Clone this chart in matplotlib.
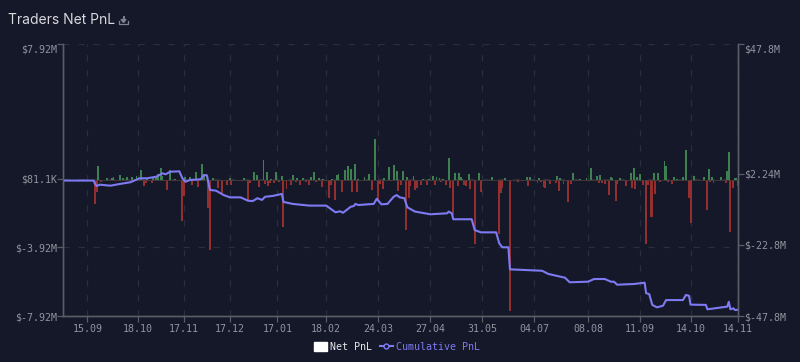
import matplotlib
matplotlib.use("Agg")
import matplotlib.pyplot as plt
from matplotlib.lines import Line2D
from matplotlib.patches import Patch, Polygon

# day index from the first day on the axis, net PnL in $K
gain_days = [23,29,32,33,37,39,42,45,48,51,55,59,61,62,64,65,70,73,80,83,87,91,92,98,109,118,125,127,131,133,136,139,143,150,153,157,162,164,167,170,176,179,180,184,186,188,191,193,197,200,204,210,213,216,218,222,225,229,235,239,242,244,246,248,252,256,259,260,261,265,272,280,289,303,305,311,323,325,333,338,342,345,349,351,358,359,364,371,373,375,377,386,389,393,394,399,401,405,407,412,419,422,424,430,434,435,439,440]
gain_values = [840,120,120,180,290,120,180,180,240,590,60,120,180,350,700,240,590,60,180,180,470,940,290,120,120,120,470,290,1180,470,60,470,240,290,120,120,180,470,120,60,60,290,350,590,820,650,940,60,180,350,2410,120,760,880,530,530,180,240,60,60,240,180,120,60,1290,410,410,180,60,350,410,180,120,180,180,120,240,120,410,60,120,710,240,290,180,120,120,410,710,180,350,410,410,1120,820,180,60,180,1760,240,180,650,180,180,530,1650,120,120]
loss_days = [21,22,25,53,54,58,66,68,78,79,84,88,95,96,101,104,107,110,111,114,117,121,122,128,132,134,135,138,141,144,146,149,152,155,159,161,165,169,171,174,175,178,182,189,192,202,206,207,209,215,219,221,224,226,227,230,231,234,238,243,247,250,253,255,258,262,263,266,269,273,285,286,287,292,297,300,304,310,312,314,315,318,322,324,327,330,332,336,343,350,352,354,357,361,362,368,372,374,379,381,382,384,385,387,390,395,398,400,409,410,413,421,423,425,433,436,438,441]
loss_values = [-1410,-710,-120,-350,-180,-180,-60,-590,-2410,-940,-290,-410,-1650,-4060,-470,-760,-290,-290,-60,-60,-60,-1240,-180,-410,-240,-350,-180,-180,-120,-2710,-530,-290,-120,-290,-120,-290,-120,-410,-60,-1060,-290,-1180,-710,-710,-710,-590,-1180,-240,-530,-60,-650,-290,-2940,-1060,-350,-590,-470,-290,-290,-290,-120,-290,-470,-2060,-350,-290,-350,-530,-3710,-710,-3120,-760,-470,-7650,-120,-60,-350,-180,-120,-410,-470,-240,-180,-650,-240,-1290,-240,-60,-60,-180,-180,-240,-880,-1240,-240,-350,-470,-530,-290,-3710,-290,-2180,-2180,-820,-120,-120,-240,-60,-1060,-2530,-60,-1760,-120,-180,-180,-3000,-470,-350]

# cumulative PnL, day index and $M
cum_days = [0,20,21,22,24,31,37,44,50,55,61,65,67,70,76,78,80,83,90,92,94,96,100,105,109,116,121,124,127,130,132,137,143,144,150,161,172,178,181,183,188,190,191,193,199,203,205,208,212,216,218,220,223,225,230,240,251,252,254,255,267,269,273,283,285,287,291,292,313,317,328,331,343,347,354,358,360,362,373,380,381,383,385,388,392,394,405,407,409,410,420,421,434,435,436,438,439,441]
cum_values = [-0.2,-0.2,-1.4,-2.1,-1.65,-2.0,-1.4,-0.8,0.6,0.6,1.15,2.35,2.0,2.9,3.05,0.6,-0.6,0,0.25,1.75,1.65,-3.5,-3.75,-5.3,-6.1,-6.1,-7.3,-7.4,-6.4,-7.0,-5.9,-5.6,-4.9,-7.7,-8.4,-9.0,-9.0,-11.35,-11.0,-11.5,-9.4,-9.15,-8.4,-8.8,-8.55,-8.4,-6.6,-8.55,-8.4,-5.9,-5.3,-6.1,-6.4,-9.6,-11.1,-12.05,-11.7,-11.1,-11.7,-13.8,-13.8,-17.6,-18.4,-18.4,-22.25,-23.65,-23.65,-31.4,-31.9,-33.0,-34.35,-35.95,-35.75,-34.8,-34.8,-35.75,-35.75,-36.8,-36.55,-36.1,-39.8,-40.1,-43.9,-44.75,-44.2,-42.2,-42.2,-40.4,-40.7,-43.8,-43.9,-45.45,-44.5,-42.8,-45.45,-45.1,-45.7,-45.6]

x_tick_days = [16,49,79,109,140,172,206,240,274,308,343,377,410,441]
x_tick_labels = ["15.09","18.10","17.11","17.12","17.01","18.02","24.03","27.04","31.05","04.07","08.08","11.09","14.10","14.11"]
left_ticks = [7.92,0.0811,-3.92,-7.92]
left_labels = ["$7.92M","$81.1K","$-3.92M","$-7.92M"]
right_ticks = [47.8,2.24,-22.8,-47.8]
right_labels = ["$47.8M","$2.24M","$-22.8M","$-47.8M"]

BG = "#151829"
AXIS = "#5a5c66"
GRID = "#2b2e3f"
TICK = "#92949e"
GREEN = "#3f8052"
RED = "#93302f"
PURPLE = "#7d7af2"
MONO = "DejaVu Sans Mono"
FS = 7.2

fig = plt.figure(figsize=(8, 3.62), dpi=100, facecolor=BG)
ax = fig.add_axes([63/800, 1-316/362, 675/800, 272/362], facecolor=BG)
ax2 = ax.twinx()
ax.set_zorder(1); ax2.set_zorder(2); ax2.patch.set_visible(False)

ax.bar(gain_days, [v/1000 for v in gain_values], width=1.25, color=GREEN, linewidth=0)
ax.bar(loss_days, [v/1000 for v in loss_values], width=1.25, color=RED, linewidth=0)
ax.axhline(0, color="#4a3a3a", lw=0.6, zorder=1)
ax2.plot(cum_days, cum_values, color=PURPLE, lw=1.5, solid_joinstyle="round")

ax.set_xlim(0, 441)
ax.set_ylim(-7.92, 7.92)
ax2.set_ylim(-47.8, 47.8)
ax.set_xticks(x_tick_days, x_tick_labels)
ax.set_yticks(left_ticks, left_labels)
ax2.set_yticks(right_ticks, right_labels)
ax.grid(True, color=GRID, lw=0.9, dashes=(5, 7))
ax.set_axisbelow(True)

ax.tick_params(axis="x", colors=AXIS, labelcolor=TICK, length=4, width=0.9, pad=1.5, labelsize=FS)
ax.tick_params(axis="y", colors=AXIS, labelcolor=TICK, length=4, width=0.9, pad=0.5, labelsize=FS)
ax2.tick_params(axis="y", colors=AXIS, labelcolor=TICK, length=4, width=0.9, pad=0.5, labelsize=FS)
for a in (ax, ax2):
    for lab in a.get_xticklabels() + a.get_yticklabels():
        lab.set_family(MONO)
    a.spines["top"].set_visible(False)
    for s in ("left", "right", "bottom"):
        a.spines[s].set_color(AXIS)
        a.spines[s].set_linewidth(1.0)
ax.get_yticklabels()[0].set_verticalalignment("top")
ax2.get_yticklabels()[0].set_verticalalignment("top")

fig.text(8/800, 1-20/362, "Traders Net PnL", color="#d9d9de", fontsize=10, family="Inter", va="center", ha="left")

# download icon next to the title
ic = "#7f818c"
fig.add_artist(Line2D([119/800, 119/800, 128/800, 128/800],
                      [1-21/362, 1-24/362, 1-24/362, 1-21/362], color=ic, lw=0.9))
fig.add_artist(Polygon([(121/800, 1-19.5/362), (126/800, 1-19.5/362), (123.5/800, 1-22.5/362)],
                       closed=True, color=ic, transform=fig.transFigure))
fig.add_artist(Line2D([123.5/800, 123.5/800], [1-16.5/362, 1-20/362], color=ic, lw=1.4))

handles = [Patch(facecolor="white", edgecolor="white"),
           Line2D([0], [0], color=PURPLE, lw=1.5, marker="o", markersize=3.5,
                  markerfacecolor=BG, markeredgecolor=PURPLE)]
leg = fig.legend(handles, ["Net PnL", "Cumulative PnL"], loc="center", bbox_to_anchor=(397/800, 1-346.5/362),
                 ncol=2, frameon=False, handlelength=1.25, handleheight=1.0, handletextpad=0.35, columnspacing=0.8,
                 prop={"family": MONO, "size": FS})
for t, c in zip(leg.get_texts(), ["#e6e6ea", PURPLE]):
    t.set_color(c)

fig.savefig("out.png", dpi=100, facecolor=BG)
